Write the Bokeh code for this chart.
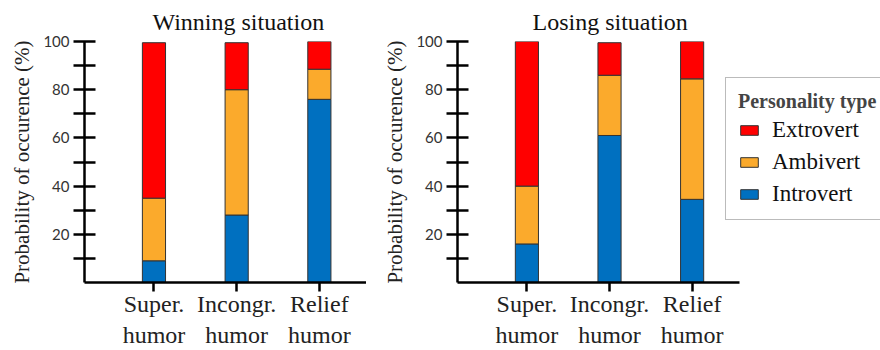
from bokeh.plotting import figure
from bokeh.layouts import row
from bokeh.models import (Range1d, FixedTicker, ColumnDataSource, Legend, LegendItem)
from bokeh.embed import file_html
from bokeh.resources import INLINE

# ---------------- data ----------------
categories = ["Super.\nhumor", "Incongr.\nhumor", "Relief\nhumor"]
category_pos = [1, 2, 3]

series_names = ["Introvert", "Ambivert", "Extrovert"]

winning_introvert = [9, 28, 76]
winning_ambivert = [26, 52, 12.5]
winning_extrovert = [64.5, 19.5, 11.5]

losing_introvert = [16, 61, 34.5]
losing_ambivert = [24, 25, 50]
losing_extrovert = [60, 13.5, 15.5]

y_ticks = [10, 20, 30, 40, 50, 60, 70, 80, 90, 100]
y_tick_labels = ["", "20", "", "40", "", "60", "", "80", "", "100"]

titles = ["Winning situation", "Losing situation"]
y_label = "Probability of occurence (%)"
legend_title = "Personality type"

# ---------------- styles ----------------
COLORS = {"Introvert": "#0070C0", "Ambivert": "#FBAA2C", "Extrovert": "#FF0000"}
SERIF = "Liberation Serif"
SANS = "Lato"
H = 350


def make_panel(title, title_offset, intro, ambi, extro, width, border_left, x_end):
    p = figure(width=width, height=H, output_backend="svg", toolbar_location=None,
               x_range=Range1d(0.16, x_end), y_range=Range1d(0, 100),
               min_border_left=border_left, min_border_right=0,
               min_border_top=41, min_border_bottom=62, title=title)
    p.outline_line_color = None
    p.grid.visible = False
    p.background_fill_color = "white"
    p.border_fill_color = "white"

    p.title.text_font = SERIF
    p.title.text_font_size = "24px"
    p.title.text_font_style = "normal"
    p.title.text_color = "#111111"
    p.title.align = "left"
    p.title.offset = title_offset
    p.title.standoff = 13

    src = ColumnDataSource(dict(x=category_pos, Introvert=intro, Ambivert=ambi,
                                Extrovert=extro))
    rs = p.vbar_stack(series_names, x="x", width=0.28, source=src,
                      fill_color=[COLORS[n] for n in series_names],
                      line_color="#333333", line_width=1)

    # y axis
    ya = p.yaxis[0]
    ya.ticker = FixedTicker(ticks=y_ticks)
    ya.major_label_overrides = {t: l for t, l in zip(y_ticks, y_tick_labels)}
    ya.minor_tick_line_color = None
    ya.major_tick_in = 11
    ya.major_tick_out = 11
    ya.major_tick_line_width = 2.5
    ya.major_tick_line_color = "black"
    ya.axis_line_width = 2.5
    ya.axis_line_color = "black"
    ya.major_label_text_font = SANS
    ya.major_label_text_font_size = "15px"
    ya.major_label_text_color = "#333333"
    ya.major_label_standoff = 4
    ya.axis_label = y_label
    ya.axis_label_text_font = SERIF
    ya.axis_label_text_font_style = "normal"
    ya.axis_label_text_font_size = "21px"
    ya.axis_label_text_color = "#222222"
    ya.axis_label_standoff = 6

    # x axis
    xa = p.xaxis[0]
    xa.bounds = (0.16, 3.57)
    xa.ticker = FixedTicker(ticks=category_pos)
    xa.major_label_overrides = {c: l for c, l in zip(category_pos, categories)}
    xa.major_label_text_font = SERIF
    xa.major_label_text_font_size = "24px"
    xa.major_label_text_color = "#222222"
    xa.major_label_standoff = -1
    xa.minor_tick_line_color = None
    xa.major_tick_in = 0
    xa.major_tick_out = 9
    xa.major_tick_line_width = 2.5
    xa.major_tick_line_color = "black"
    xa.axis_line_width = 2.5
    xa.axis_line_color = "black"
    return p, rs


p1, rs1 = make_panel(titles[0], 68, winning_introvert, winning_ambivert,
                     winning_extrovert, 366, 84, 3.57)
p2, rs2 = make_panel(titles[1], 75, losing_introvert, losing_ambivert,
                     losing_extrovert, 514, 91, 5.28)

items = [LegendItem(label=n, renderers=[r]) for n, r in zip(series_names, rs2)][::-1]
legend = Legend(items=items, location=(268, 62), title=legend_title,
                title_text_font=SERIF, title_text_font_style="bold",
                title_text_font_size="20px", title_standoff=4,
                label_text_font=SERIF, label_text_font_size="23px",
                label_text_color="#111111", label_standoff=12,
                glyph_width=22, glyph_height=12, spacing=6,
                padding=12, margin=0, border_line_color="#777777",
                border_line_width=1, background_fill_color="white",
                background_fill_alpha=1)
p2.add_layout(legend, "center")

layout = row(p1, p2)

open("out.html", "w").write(file_html(layout, INLINE))
